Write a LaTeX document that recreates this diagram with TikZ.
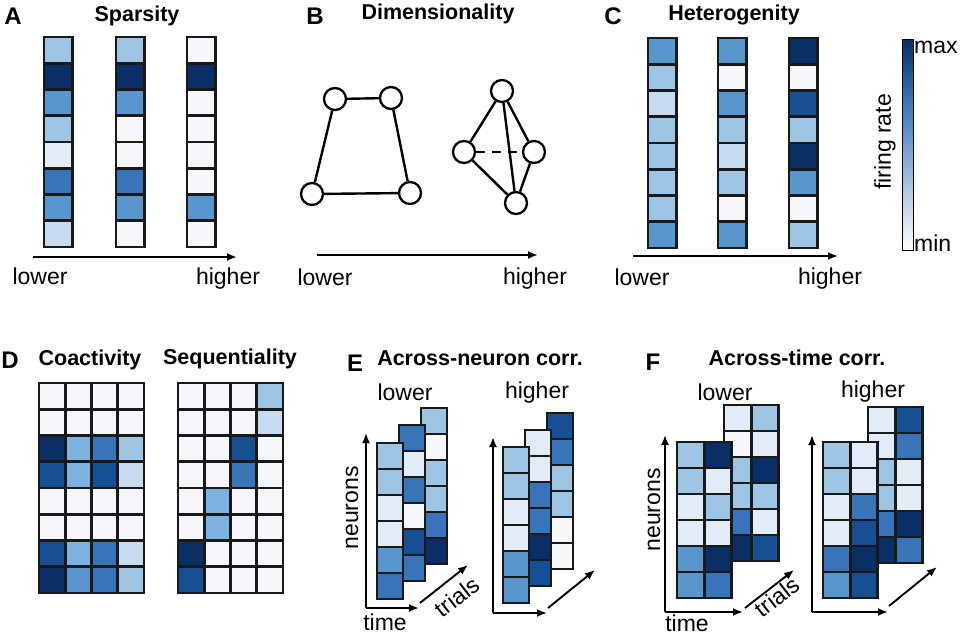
\documentclass[tikz,border=0pt]{standalone}
\usepackage{fontspec}
\setmainfont{Liberation Sans}
\usetikzlibrary{arrows.meta}

% firing-rate shades, light to dark
\definecolor{b0}{HTML}{F5F7FA}
\definecolor{b1}{HTML}{E2ECF6}
\definecolor{b2}{HTML}{C6DBEF}
\definecolor{b3}{HTML}{9EC5E4}
\definecolor{b4}{HTML}{7DB3E0}
\definecolor{b5}{HTML}{5A96CE}
\definecolor{b6}{HTML}{3775B8}
\definecolor{b7}{HTML}{164F93}
\definecolor{b8}{HTML}{0A2F66}

\tikzset{
  cell/.style={draw=black!90, line width=2.7pt},
  axis/.style={-{Latex[length=10pt,width=8pt]}, line width=2.1pt},
  dot/.style={circle, draw, line width=2.3pt, fill=white, minimum size=22pt, inner sep=0pt},
  edge/.style={line width=2.4pt},
  plabel/.style={font=\fontsize{24}{24}\selectfont\bfseries},
  ptitle/.style={font=\fontsize{21.5}{22}\selectfont\bfseries},
  ltext/.style={font=\fontsize{23}{24}\selectfont},
}

\def\cellw{28}
\def\cellh{26}
% one column of cells: left, top, colours from top to bottom
\newcommand{\heatcol}[3]{%
  \foreach \c [count=\k from 0] in {#3}
    \draw[cell, fill=\c] (#1,{#2+\k*\cellh}) rectangle ++(\cellw,\cellh);}

\begin{document}
\begin{tikzpicture}[x=1pt,y=-1pt]
\useasboundingbox (0,0) rectangle (960,639);

% A
\node[plabel] (la) at (13,16) {A};
\node[ptitle] (ta) at (137,16) {Sparsity};
\def\cellw{28.5}\def\cellh{26.25}
\heatcol{44}{37}{b3,b8,b5,b3,b1,b6,b5,b2}
\heatcol{116}{37}{b3,b8,b5,b0,b0,b6,b5,b0}
\heatcol{187}{37}{b0,b8,b0,b0,b0,b0,b5,b0}
\coordinate (a0) at (33,257);
\coordinate (a1) at (237,257);
\draw[axis] (a0) -- (a1);
\node[ltext] (alow) at (40,276) {lower};
\node[ltext] (ahigh) at (228,279) {higher};

% B
\node[plabel] (lb) at (315,16) {B};
\node[ptitle] (tb) at (438,14) {Dimensionality};
\node[dot] (q1) at (335,99) {};
\node[dot] (q2) at (391,98) {};
\node[dot] (q3) at (410,193) {};
\node[dot] (q4) at (312,194) {};
\draw[edge] (q1) -- (q2) -- (q3) -- (q4) -- (q1);
\node[dot] (t1) at (502,91) {};
\node[dot] (t2) at (464,152) {};
\node[dot] (t3) at (534,152) {};
\node[dot] (t4) at (516,203) {};
\draw[edge, dash pattern=on 9pt off 7pt] (t2) -- (t3);
\draw[edge] (t1) -- (t2) -- (t4) -- (t3) -- (t1) -- (t4);
\coordinate (b0) at (317,255);
\coordinate (b1) at (538,255);
\draw[axis] (b0) -- (b1);
\node[ltext] (blow) at (325,277) {lower};
\node[ltext] (bhigh) at (535,279) {higher};

% C
\node[plabel] (lc) at (613,16) {C};
\node[ptitle] (tc) at (734,15) {Heterogenity};
\heatcol{648}{38}{b5,b3,b2,b3,b3,b3,b3,b5}
\heatcol{718}{38}{b5,b0,b5,b3,b2,b3,b0,b5}
\heatcol{789}{38}{b8,b0,b7,b3,b8,b5,b0,b3}
\coordinate (c0) at (633,256);
\coordinate (c1) at (838,256);
\draw[axis] (c0) -- (c1);
\node[ltext] (clow) at (642,277) {lower};
\node[ltext] (chigh) at (830,279) {higher};
% colour bar
\shade[top color=b8, bottom color=b6] (902,40) rectangle (913,100.5);
\shade[top color=b6, middle color=b5, bottom color=white] (902,100) rectangle (913,250);
\draw[line width=1pt] (902,40) rectangle (913,250);
\node[ltext, anchor=west, inner sep=1pt] (cmax) at (913,47) {max};
\node[ltext, anchor=west, inner sep=1pt] (cmin) at (913,243) {min};
\node[ltext, rotate=90] (crate) at (885,142) {firing rate};

% D
\node[plabel] (ld) at (10,360) {D};
\node[ptitle] (td1) at (90,360) {Coactivity};
\node[ptitle] (td2) at (230,359) {Sequentiality};
\def\cellw{26.25}\def\cellh{26.25}
\heatcol{39}{383}{b0,b0,b8,b7,b0,b0,b7,b8}
\heatcol{65.25}{383}{b0,b0,b4,b4,b0,b0,b4,b5}
\heatcol{91.5}{383}{b0,b0,b6,b7,b0,b0,b6,b6}
\heatcol{117.75}{383}{b0,b0,b3,b2,b0,b0,b2,b3}
\heatcol{178}{383}{b0,b0,b0,b0,b0,b0,b8,b7}
\heatcol{204.25}{383}{b0,b0,b0,b0,b4,b4,b0,b0}
\heatcol{230.5}{383}{b0,b0,b7,b6,b0,b0,b0,b0}
\heatcol{256.75}{383}{b3,b2,b0,b0,b0,b0,b0,b0}

% E
\node[plabel] (le) at (355,363) {E};
\node[ptitle] (te) at (480,358) {Across-neuron corr.};
\node[ltext] (elow) at (405,392) {lower};
\node[ltext] (ehigh) at (537,393) {higher};
\def\cellw{26}\def\cellh{26}
\heatcol{421}{408}{b3,b0,b3,b3,b6,b8}
\heatcol{399}{425}{b6,b1,b6,b0,b7,b6}
\heatcol{377}{443}{b3,b3,b1,b1,b5,b6}
\heatcol{547}{413}{b7,b6,b3,b3,b0,b0}
\heatcol{525}{430}{b1,b1,b6,b6,b8,b7}
\heatcol{503}{447}{b3,b3,b1,b1,b5,b5}
\coordinate (e0) at (366,608);
\coordinate (en) at (366,433);
\coordinate (et) at (419,608);
\coordinate (er0) at (420,603);
\coordinate (er1) at (468,565);
\draw[axis, line width=1.9pt] (e0) -- (en);
\draw[axis, line width=1.9pt] (e0) -- (et);
\draw[axis, line width=1.9pt] (er0) -- (er1);
\node[ltext, rotate=90] (eneu) at (352,508) {neurons};
\node[ltext] (etime) at (385,622) {time};
\node[ltext, rotate=38] (etri) at (457,597) {trials};
\coordinate (h0) at (493,613);
\coordinate (hn) at (493,437);
\coordinate (ht) at (547,613);
\coordinate (hr0) at (548,608);
\coordinate (hr1) at (595,570);
\draw[axis, line width=1.9pt] (h0) -- (hn);
\draw[axis, line width=1.9pt] (h0) -- (ht);
\draw[axis, line width=1.9pt] (hr0) -- (hr1);

% F
\node[plabel] (lf) at (653,362) {F};
\node[ptitle] (tf) at (797,358) {Across-time corr.};
\node[ltext] (flow) at (725,392) {lower};
\node[ltext] (fhigh) at (873,392) {higher};
\def\cellw{27.25}\def\cellh{26}
\heatcol{724}{405}{b1,b0,b3,b3,b6,b8}
\heatcol{751.25}{405}{b3,b1,b8,b3,b1,b7}
\heatcol{677}{442}{b3,b3,b1,b1,b5,b5}
\heatcol{704.25}{442}{b8,b1,b3,b1,b8,b6}
\heatcol{868}{407}{b1,b1,b3,b3,b6,b8}
\heatcol{895.25}{407}{b7,b6,b1,b1,b8,b6}
\heatcol{823}{442}{b3,b3,b1,b1,b6,b5}
\heatcol{850.25}{442}{b1,b1,b6,b7,b8,b7}
\coordinate (f0) at (665,612);
\coordinate (fn) at (665,435);
\coordinate (ft) at (743,612);
\coordinate (fr0) at (745,608);
\coordinate (fr1) at (794,570);
\draw[axis, line width=1.9pt] (f0) -- (fn);
\draw[axis, line width=1.9pt] (f0) -- (ft);
\draw[axis, line width=1.9pt] (fr0) -- (fr1);
\node[ltext, rotate=90] (fneu) at (654,510) {neurons};
\node[ltext] (ftime) at (687,623) {time};
\node[ltext, rotate=38] (ftri) at (777,597) {trials};
\coordinate (g0) at (812,612);
\coordinate (gn) at (812,435);
\coordinate (gt) at (888,612);
\coordinate (gr0) at (889,606);
\coordinate (gr1) at (937,567);
\draw[axis, line width=1.9pt] (g0) -- (gn);
\draw[axis, line width=1.9pt] (g0) -- (gt);
\draw[axis, line width=1.9pt] (gr0) -- (gr1);
\end{tikzpicture}
\end{document}
